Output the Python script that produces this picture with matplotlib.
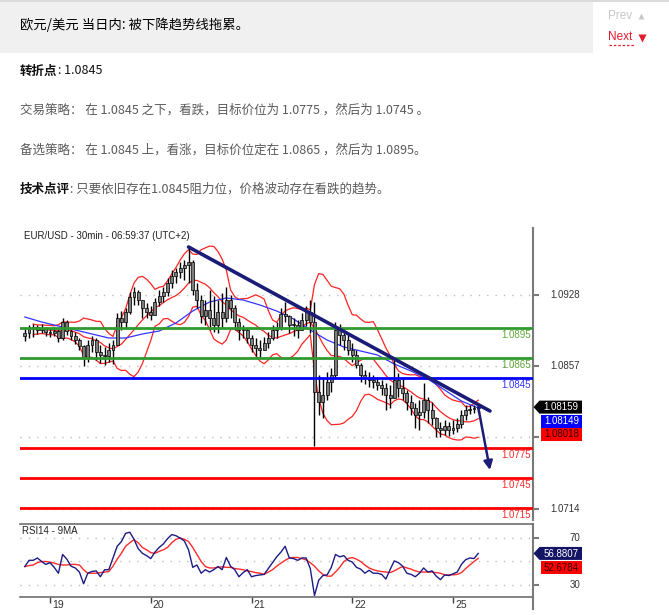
import numpy as np
import pandas as pd
import matplotlib
matplotlib.use("Agg")
import matplotlib.pyplot as plt
from matplotlib.patches import Rectangle, Polygon
from matplotlib.collections import PatchCollection

plt.rcParams['font.family'] = ['Noto Sans CJK SC', 'DejaVu Sans']

W, H = 669, 615
LATIN = ['Liberation Sans', 'DejaVu Sans']

# ---------------- EUR/USD hourly bars (hour 0 = start of the 19th) ----------------
bar_hours = list(range(-6, 103))
first_open = 1.0887
bar_high = [
    1.0895, 1.0898, 1.0899, 1.0898, 1.0899, 1.0896,
    1.0895, 1.0896, 1.0894, 1.0905, 1.0903, 1.0894, 1.0891, 1.0885, 1.0878, 1.0883,
    1.0887, 1.0885, 1.0878, 1.0876, 1.0880, 1.0883, 1.0910, 1.0912, 1.0915, 1.0931,
    1.0936, 1.0933, 1.0923, 1.0920,
    1.0917, 1.0925, 1.0933, 1.0936, 1.0945, 1.0953, 1.0955, 1.0961, 1.0963, 1.0976,
    1.0963, 1.0940, 1.0928, 1.0923, 1.0933, 1.0927, 1.0923, 1.0930, 1.0936, 1.0928,
    1.0918, 1.0905, 1.0898, 1.0895,
    1.0888, 1.0885, 1.0883, 1.0886, 1.0891, 1.0898, 1.0901, 1.0915, 1.0921, 1.0908,
    1.0905, 1.0903, 1.0910, 1.0917, 1.0923, 1.0921, 1.0848, 1.0845, 1.0851, 1.0855,
    1.0901, 1.0899, 1.0895, 1.0888,
    1.0880, 1.0873, 1.0860, 1.0853, 1.0851, 1.0848, 1.0846, 1.0843, 1.0840, 1.0838,
    1.0863, 1.0850, 1.0845, 1.0833, 1.0828, 1.0820, 1.0823, 1.0840, 1.0826, 1.0821,
    1.0806, 1.0801, 1.0803, 1.0801,
    1.0803, 1.0805, 1.0813, 1.0818, 1.0818, 1.0818, 1.0819,
]
bar_low = [
    1.0882, 1.0885, 1.0886, 1.0889, 1.0890, 1.0887,
    1.0886, 1.0887, 1.0881, 1.0883, 1.0888, 1.0883, 1.0879, 1.0873, 1.0857, 1.0861,
    1.0871, 1.0863, 1.0860, 1.0858, 1.0861, 1.0859, 1.0878, 1.0893, 1.0895, 1.0909,
    1.0918, 1.0918, 1.0905, 1.0905,
    1.0903, 1.0908, 1.0917, 1.0921, 1.0927, 1.0935, 1.0940, 1.0945, 1.0943, 1.0940,
    1.0928, 1.0915, 1.0900, 1.0898, 1.0893, 1.0891, 1.0890, 1.0895, 1.0901, 1.0905,
    1.0893, 1.0883, 1.0885, 1.0880,
    1.0871, 1.0867, 1.0866, 1.0873, 1.0875, 1.0883, 1.0885, 1.0893, 1.0901, 1.0890,
    1.0887, 1.0885, 1.0893, 1.0897, 1.0890, 1.0777, 1.0808, 1.0805, 1.0823, 1.0831,
    1.0845, 1.0878, 1.0873, 1.0868,
    1.0861, 1.0855, 1.0841, 1.0839, 1.0836, 1.0835, 1.0833, 1.0828, 1.0813, 1.0815,
    1.0825, 1.0826, 1.0823, 1.0813, 1.0808, 1.0795, 1.0793, 1.0805, 1.0800, 1.0798,
    1.0786, 1.0786, 1.0788, 1.0787,
    1.0789, 1.0791, 1.0795, 1.0803, 1.0809, 1.0810, 1.0811,
]
bar_close = [
    1.0890, 1.0895, 1.0896, 1.0893, 1.0895, 1.0891,
    1.0890, 1.0892, 1.0885, 1.0901, 1.0892, 1.0887, 1.0883, 1.0877, 1.0865, 1.0878,
    1.0883, 1.0871, 1.0868, 1.0867, 1.0873, 1.0878, 1.0905, 1.0901, 1.0911, 1.0926,
    1.0931, 1.0923, 1.0915, 1.0911,
    1.0908, 1.0921, 1.0927, 1.0931, 1.0940, 1.0947, 1.0951, 1.0955, 1.0958, 1.0961,
    1.0933, 1.0923, 1.0907, 1.0913, 1.0905, 1.0898, 1.0911, 1.0905, 1.0923, 1.0915,
    1.0901, 1.0893, 1.0893, 1.0885,
    1.0878, 1.0875, 1.0873, 1.0880, 1.0885, 1.0893, 1.0895, 1.0909, 1.0907, 1.0898,
    1.0898, 1.0893, 1.0903, 1.0911, 1.0901, 1.0831, 1.0821, 1.0828, 1.0841, 1.0848,
    1.0893, 1.0888, 1.0883, 1.0873,
    1.0868, 1.0858, 1.0848, 1.0845, 1.0843, 1.0841, 1.0838, 1.0835, 1.0828, 1.0825,
    1.0843, 1.0835, 1.0830, 1.0821, 1.0815, 1.0808, 1.0811, 1.0823, 1.0813, 1.0805,
    1.0795, 1.0793, 1.0797, 1.0793,
    1.0795, 1.0799, 1.0808, 1.0813, 1.0814, 1.0815, 1.08159,
]

# slow moving average (blue), sampled every 4 hours
ma_hours = list(range(-6, 103, 4))
ma_values = [
    1.0906, 1.0901, 1.0897, 1.0893, 1.0889, 1.0885, 1.0885, 1.0889, 1.0892, 1.0900,
    1.0912, 1.0921, 1.0925, 1.0923, 1.0918, 1.0912, 1.0904, 1.0893, 1.0883, 1.0876,
    1.0872, 1.0868, 1.0859, 1.0852, 1.0844, 1.0833, 1.0822, 1.08149,
]

# RSI(14) and its 9-period average, one value per bar
rsi = [
    45.7, 51, 51, 53, 50, 47.5, 49, 45, 40, 56, 52, 46, 44.5, 41, 31, 40,
    41.5, 42, 37, 43, 43, 53, 63, 67, 74, 75, 69, 61, 57, 55, 52.5, 58,
    62, 65, 69.5, 73, 72, 70, 67.5, 60, 45, 47, 40, 43, 41, 43, 45.7, 43,
    53.4, 46, 43, 37, 40.5, 43, 37, 38, 38.5, 39, 44, 49, 54, 58, 63, 53,
    52.5, 51, 53, 53, 44, 21, 34, 38, 38.5, 45, 56, 54, 55, 51, 49.5, 45,
    43.5, 40, 42.5, 40, 40, 39, 35, 43, 50.5, 49, 46, 40, 39, 37, 40, 44.5,
    41, 42, 37.5, 34.5, 38.5, 38, 39.5, 41, 47.5, 51.5, 53, 52.5, 56.8807,
]
rsi_ma = [
    45.7, 46.5, 47, 49, 50, 50, 49.5, 48.6, 47.5, 47, 47, 47.5, 47.5, 47, 43, 40,
    40, 40, 40.5, 41, 41.4, 46, 52, 57, 63, 66, 68.6, 66, 62, 60, 57.5, 57,
    58.6, 60, 62, 66, 69, 70, 69, 67, 62, 56, 50, 45.7, 44.5, 44.5, 45, 45.5,
    45, 45, 44, 43.5, 43, 42, 41.4, 40.5, 40, 39, 41, 43, 46, 48.6, 51, 53,
    53.4, 53.4, 52.5, 51.4, 49, 46, 42, 39, 37.5, 37.5, 41, 45, 50, 52.5, 53.4, 52,
    50, 47, 44.5, 43, 42, 41.4, 41, 40.5, 42, 44, 45.7, 44.5, 43.5, 42, 41, 41,
    41, 41, 40.5, 40, 38.6, 38.6, 38.6, 39, 40.5, 44, 47, 50, 52.6784,
]

levels = [1.0895, 1.0865, 1.0845, 1.0775, 1.0745, 1.0715]
level_kinds = ['resistance', 'resistance', 'pivot', 'support', 'support', 'support']
price_ticks = [1.0714, 1.0786, 1.0857, 1.0928]
price_tick_labels = ['1.0714', '', '1.0857', '1.0928']   # 1.0786 sits under the value boxes
rsi_ticks = [70, 30]
rsi_grid = [70, 50, 30]
day_hours = [0, 24, 48, 72, 96]
day_labels = ['19', '20', '21', '22', '25']
trend_from = (33, 1.0976)
trend_to = (104.8, 1.0812)
target_point = (104.8, 1.0753)
mid_band_last = 1.08018

# ---------------- colours ----------------
LINE_COL = {'resistance': '#2f9a2f', 'pivot': '#0000ff', 'support': '#ff0000'}
TEXT_COL = {'resistance': '#5fa83a', 'pivot': '#3535ff', 'support': '#ff2a2a'}
NAVY = '#1b1b78'
AXIS = '#7a7a7a'

fig = plt.figure(figsize=(W / 100, H / 100), dpi=100)
fig.patch.set_facecolor('white')

# page layer in pixel coordinates
page = fig.add_axes([0, 0, 1, 1], zorder=0)
page.set_xlim(0, W)
page.set_ylim(H, 0)
page.axis('off')

# ---------------- price panel ----------------
ax = fig.add_axes([20 / W, 1 - 520 / H, 513 / W, 292 / H], zorder=2)
ax.set_facecolor('none')
ax.set_xlim(-7.15, 115.05)
ax.set_ylim(1.0703, 1.0995)

for t in price_ticks:
    ax.axhline(t, color='#bdbdbd', lw=1, ls=(0, (1, 5)), zorder=0)

opens = [first_open] + bar_close[:-1]
hi = np.maximum.reduce([np.array(bar_high), np.array(opens), np.array(bar_close)])
lo = np.minimum.reduce([np.array(bar_low), np.array(opens), np.array(bar_close)])
ax.vlines(bar_hours, lo, hi, color='black', lw=1.0, zorder=3)
bodies = []
bw = 0.7
for h, o, c in zip(bar_hours, opens, bar_close):
    b0, b1 = min(o, c), max(o, c)
    bodies.append(Rectangle((h - bw / 2, b0), bw, max(b1 - b0, 0.00008)))
ax.add_collection(PatchCollection(bodies, facecolor='#7d7d7d', edgecolor='black',
                                  linewidth=0.5, zorder=4))

# Bollinger bands (10 bars, 2 sd) from the closes
closes = pd.Series(bar_close, index=bar_hours)
mid = closes.rolling(10, min_periods=3).mean()
sd = closes.rolling(10, min_periods=3).std(ddof=0)
for band in (mid + 2 * sd, mid, mid - 2 * sd):
    ax.plot(band.index, band.values, color='#ff2323', lw=0.9, zorder=2)

ax.plot(ma_hours, ma_values, color='#3434ff', lw=0.9, zorder=2)

for lv, kind in zip(levels, level_kinds):
    ax.axhline(lv, color=LINE_COL[kind], lw=2.0, zorder=5)
    ax.annotate(f"{lv:.4f}", xy=(1, lv), xycoords=('axes fraction', 'data'),
                xytext=(-2, -7), textcoords='offset pixels', ha='right', va='center',
                fontsize=7, color=TEXT_COL[kind], family=LATIN, zorder=6)

ax.plot([trend_from[0], trend_to[0]], [trend_from[1], trend_to[1]],
        color=NAVY, lw=2.6, solid_capstyle='round', zorder=7)
ax.annotate('', xy=target_point, xytext=(bar_hours[-1], bar_close[-1]),
            arrowprops=dict(arrowstyle='-|>', color=NAVY, lw=1.8,
                            mutation_scale=13, shrinkA=0, shrinkB=0), zorder=7)

for s in ('left', 'top', 'bottom'):
    ax.spines[s].set_visible(False)
ax.spines['right'].set_color(AXIS)
ax.spines['right'].set_linewidth(1.5)
ax.set_xticks([])
ax.yaxis.tick_right()
ax.set_yticks(price_ticks)
ax.tick_params(axis='y', length=4, width=1.5, color=AXIS, labelright=False)
for t, lab in zip(price_ticks, price_tick_labels):
    if lab:
        ax.annotate(lab, xy=(1, t), xycoords=('axes fraction', 'data'),
                    xytext=(47, 0), textcoords='offset pixels', ha='right', va='center',
                    fontsize=7, color='#333333', family=LATIN, annotation_clip=False)

# ---------------- RSI panel ----------------
ax2 = fig.add_axes([20 / W, 1 - 597 / H, 513 / W, 73 / H], zorder=2)
ax2.set_facecolor('none')
ax2.set_xlim(-7.15, 115.05)
ax2.set_ylim(19.7, 82)
for g in rsi_grid:
    ax2.axhline(g, color='#bdbdbd', lw=1, ls=(0, (1, 5)), zorder=0)
ax2.plot(bar_hours, rsi_ma, color='#ff2b2b', lw=1.0, zorder=3)
ax2.plot(bar_hours, rsi, color='#1c1c86', lw=1.0, zorder=4)
ax2.spines['left'].set_visible(False)
for s in ('top', 'bottom'):
    ax2.spines[s].set_color('#6e6e6e')
    ax2.spines[s].set_linewidth(1.2)
ax2.spines['right'].set_color(AXIS)
ax2.spines['right'].set_linewidth(1.5)
ax2.yaxis.tick_right()
ax2.set_yticks(rsi_ticks)
ax2.tick_params(axis='y', length=4, width=1.5, color=AXIS, labelright=False)
ax2.set_xticks(day_hours)
ax2.tick_params(axis='x', direction='out', length=4.5, width=1, color='#444444',
                labelbottom=False)
for t in rsi_ticks:
    ax2.annotate(f"{t}", xy=(1, t), xycoords=('axes fraction', 'data'),
                 xytext=(47, 0), textcoords='offset pixels', ha='right', va='center',
                 fontsize=7, color='#333333', family=LATIN, annotation_clip=False)
for h, lab in zip(day_hours, day_labels):
    ax2.annotate(lab, xy=(h, 0), xycoords=('data', 'axes fraction'),
                 xytext=(2, -8), textcoords='offset pixels', ha='left', va='center',
                 fontsize=7.5, color='#333333', family=LATIN, annotation_clip=False)

# ---------------- overlay: chart captions and value boxes ----------------
over = fig.add_axes([0, 0, 1, 1], zorder=10)
over.set_xlim(0, W)
over.set_ylim(H, 0)
over.axis('off')
over.patch.set_alpha(0)

over.text(24, 236, "EUR/USD - 30min - 06:59:37 (UTC+2)", fontsize=7, color='#222222',
          va='center', ha='left', family=LATIN)
over.text(22, 531, "RSI14 - 9MA", fontsize=7, color='#222222',
          va='center', ha='left', family=LATIN)
over.plot([533, 533], [597, 609], color=AXIS, lw=1.5)


def y_px(axes, v):
    return H - axes.transData.transform((0, v))[1]


def pointer_box(y, text, face, tcol):
    over.add_patch(Polygon([(533.5, y), (539.5, y - 6.5), (582, y - 6.5), (582, y + 6.5),
                            (539.5, y + 6.5)], closed=True, facecolor=face,
                           edgecolor='none'))
    over.text(561, y + 0.3, text, fontsize=7, color=tcol, ha='center', va='center',
              family=LATIN)


def flat_box(y, text, face, tcol):
    over.add_patch(Rectangle((541, y - 6.5), 41, 13, facecolor=face, edgecolor='none'))
    over.text(561.5, y + 0.3, text, fontsize=7, color=tcol, ha='center', va='center',
              family=LATIN)


yp = y_px(ax, bar_close[-1])
pointer_box(yp, f"{bar_close[-1]:.5f}", 'black', 'white')
flat_box(yp + 14, f"{ma_values[-1]:.5f}", '#0000ff', 'white')
flat_box(yp + 27, f"{mid_band_last:.5f}", '#ff0000', '#300000')

yr = y_px(ax2, rsi[-1])
pointer_box(yr, f"{rsi[-1]:.4f}", '#141466', 'white')
flat_box(yr + 14, f"{rsi_ma[-1]:.4f}", '#ff0000', '#300000')

# ---------------- page header and commentary ----------------
page.add_patch(Rectangle((0, 2), 593, 51, facecolor='#f0f0f0', edgecolor='none'))
page.plot([0, W], [0.8, 0.8], color='#d4d4d4', lw=1.2)

renderer = fig.canvas.get_renderer()


def put_line(x, y, parts, size=9):
    for s, col, wt in parts:
        t = page.text(x, y, s, fontsize=size, color=col, fontweight=wt,
                      ha='left', va='center')
        x += t.get_window_extent(renderer=renderer).width


DARK = '#111111'
GREY = '#5a5a5a'
put_line(20, 25, [("欧元/美元 当日内: 被下降趋势线拖累。", '#000000', 'normal')], size=9.6)
put_line(20, 71, [("转折点", DARK, 'bold'), (": 1.0845", DARK, 'normal')])
put_line(20, 110, [("交易策略： 在 1.0845 之下，看跌，目标价位为 1.0775 ，然后为 1.0745 。",
                    GREY, 'normal')])
put_line(20, 150, [("备选策略： 在 1.0845 上，看涨，目标价位定在 1.0865 ，然后为 1.0895。",
                    GREY, 'normal')])
put_line(20, 189, [("技术点评", DARK, 'bold'),
                   (": 只要依旧存在1.0845阻力位，价格波动存在看跌的趋势。", GREY, 'normal')])

page.text(608, 16, "Prev", fontsize=8.5, color='#c8c8c8', ha='left', va='center',
          family=LATIN)
page.plot([641], [15.5], marker='^', ms=4.5, color='#c8c8c8', mec='none')
page.text(608, 37, "Next", fontsize=8.5, color='#e5192d', ha='left', va='center',
          family=LATIN)
page.plot([642], [37.5], marker='v', ms=6, color='#e5192d', mec='none')
page.plot([609, 634], [44.5, 44.5], color='#e5192d', lw=0.9, ls=(0, (2, 1.5)))

fig.savefig('out.png', dpi=100, facecolor='white')
